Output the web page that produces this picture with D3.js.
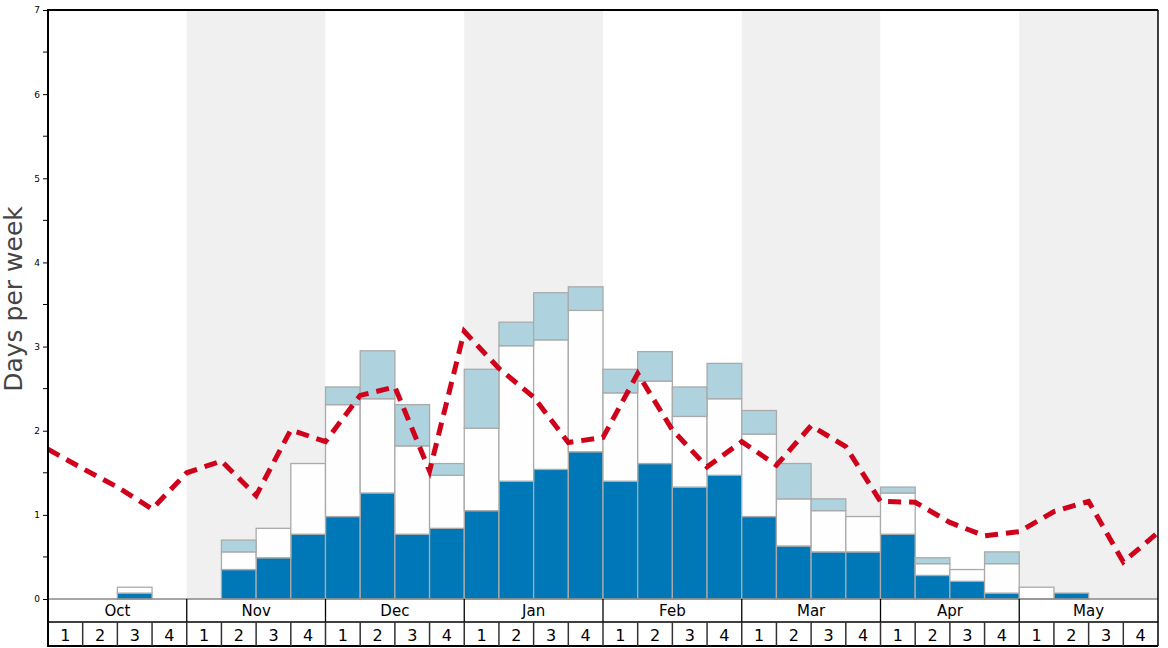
<!DOCTYPE html>
<html><head><meta charset="utf-8">
<script src="https://cdn.jsdelivr.net/npm/d3@7"></script>
<style>body{margin:0;background:#fff;} svg{display:block;font-family:"DejaVu Sans",sans-serif;}</style>
</head><body>
<svg id="c" width="1168" height="648"></svg>
<script>
const months = ["Oct","Nov","Dec","Jan","Feb","Mar","Apr","May"];
const weekLabels = ["1","2","3","4"];
// stacked segment values per week (32 weeks)
const baseDays = [0,0,0.07,0, 0,0.35,0.49,0.77, 0.98,1.26,0.77,0.84, 1.05,1.40,1.54,1.75, 1.40,1.61,1.33,1.47, 0.98,0.63,0.56,0.56, 0.77,0.28,0.21,0.07, 0,0.07,0,0];
const midDays  = [0,0,0.07,0, 0,0.21,0.35,0.84, 1.33,1.12,1.05,0.63, 0.98,1.61,1.54,1.68, 1.05,0.98,0.84,0.91, 0.98,0.56,0.49,0.42, 0.49,0.14,0.14,0.35, 0.14,0,0,0];
const topDays  = [0,0,0,0, 0,0.14,0,0, 0.21,0.57,0.49,0.14, 0.70,0.28,0.56,0.28, 0.28,0.35,0.35,0.42, 0.28,0.42,0.14,0, 0.07,0.07,0,0.14, 0,0,0,0];
// line values at week starts (33 points incl. end)
const lineDays = [1.78,1.55,1.33,1.07, 1.50,1.64,1.23,2.01, 1.87,2.42,2.52,1.52, 3.18,2.74,2.40,1.86, 1.92,2.68,2.01,1.57, 1.87,1.59,2.06,1.81, 1.16,1.15,0.91,0.75, 0.80,1.04,1.16,0.44, 0.79];
const yTicks = [0,1,2,3,4,5,6,7];

const svg = d3.select("#c");
const L=48, R=1158, T=10, B=599;
const nW = months.length*4;
const x = d3.scaleLinear().domain([0,nW]).range([L,R]);
const y = d3.scaleLinear().domain([0,7]).range([B,T]);

// month bands
svg.selectAll("rect.band").data(months).join("rect")
  .attr("x",(d,i)=>x(i*4)).attr("y",T).attr("width",x(4)-x(0)).attr("height",B-T)
  .attr("fill",(d,i)=>i%2? "#f0f0f0":"#ffffff");

// stacked bars
const rows = baseDays.map((b,i)=>({i, base:b, mid:midDays[i], top:topDays[i]}));
const stack = d3.stack().keys(["base","mid","top"])(rows);
const colors = {base:"#0077b6", mid:"#fefefe", top:"#aed3df"};
stack.forEach(layer=>{
  svg.append("g").selectAll("rect").data(layer.filter(d=>d[1]-d[0]>0)).join("rect")
    .attr("x",d=>x(d.data.i)).attr("width",x(1)-x(0))
    .attr("y",d=>y(d[1])).attr("height",d=>y(d[0])-y(d[1]))
    .attr("fill",colors[layer.key]).attr("stroke","#aaaaaa").attr("stroke-width",1.3);
});

// line
svg.append("defs").append("clipPath").attr("id","cp").append("rect")
  .attr("x",L).attr("y",T).attr("width",R-L).attr("height",B-T);
svg.append("path").datum(lineDays)
  .attr("clip-path","url(#cp)")
  .attr("d",d3.line().x((d,i)=>x(i)).y(d=>y(d)))
  .attr("fill","none").attr("stroke","#d0021b").attr("stroke-width",5)
  .attr("stroke-dasharray","13,8");

// y axis
const ya = svg.append("g").attr("transform",`translate(${L},0)`)
  .call(d3.axisLeft(y).tickValues(yTicks).tickFormat(d3.format("d")).tickSize(5).tickPadding(3));
ya.select(".domain").remove();
ya.selectAll("text").attr("font-size",9).attr("font-family","DejaVu Sans").attr("fill","#000");
svg.append("g").selectAll("line").data(d3.range(0.5,7,1)).join("line")
  .attr("x1",L-5).attr("x2",L).attr("y1",d=>y(d)).attr("y2",d=>y(d)).attr("stroke","#000");

// axis line at 0
svg.append("line").attr("x1",L).attr("x2",R).attr("y1",B).attr("y2",B).attr("stroke","#888").attr("stroke-width",1.5);

// month row
const mTop=B, mBot=622, wBot=646;
svg.append("line").attr("x1",L).attr("x2",R).attr("y1",mBot).attr("y2",mBot).attr("stroke","#000").attr("stroke-width",1.5);
svg.append("line").attr("x1",L).attr("x2",R).attr("y1",wBot).attr("y2",wBot).attr("stroke","#000").attr("stroke-width",2);
svg.append("g").selectAll("line").data(d3.range(1,months.length)).join("line")
  .attr("x1",d=>x(d*4)).attr("x2",d=>x(d*4)).attr("y1",mTop).attr("y2",mBot).attr("stroke","#000").attr("stroke-width",1.3);
svg.append("g").selectAll("text").data(months).join("text")
  .attr("x",(d,i)=>x(i*4+2)).attr("y",616).attr("text-anchor","middle")
  .attr("font-size",15).text(d=>d);
// week row
svg.append("g").selectAll("line").data(d3.range(1,nW)).join("line")
  .attr("x1",d=>x(d)).attr("x2",d=>x(d)).attr("y1",mBot).attr("y2",wBot).attr("stroke","#333").attr("stroke-width",1.5);
svg.append("g").selectAll("text").data(d3.range(nW)).join("text")
  .attr("x",d=>x(d+0.5)).attr("y",641).attr("text-anchor","middle")
  .attr("font-size",16).text(d=>weekLabels[d%4]);

// frame
svg.append("line").attr("x1",L).attr("x2",R).attr("y1",T).attr("y2",T).attr("stroke","#000").attr("stroke-width",2);
svg.append("line").attr("x1",R).attr("x2",R).attr("y1",T).attr("y2",wBot).attr("stroke","#000").attr("stroke-width",1.5);
svg.append("line").attr("x1",L).attr("x2",L).attr("y1",T-1).attr("y2",wBot+1).attr("stroke","#000").attr("stroke-width",2);

// y label
svg.append("text").attr("transform","translate(21.5,299) rotate(-90)").attr("text-anchor","middle")
  .attr("font-size",25).attr("fill","#444").text("Days per week");
</script>
</body></html>
